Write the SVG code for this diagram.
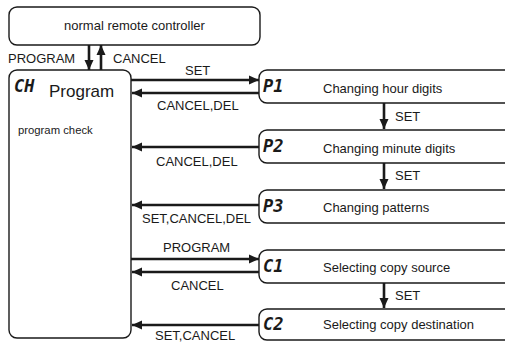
<svg xmlns="http://www.w3.org/2000/svg" width="505" height="343" viewBox="0 0 505 343">
<style>
.box{fill:#fff;stroke:#1a1a1a;stroke-width:1.4}
.t{font-family:"Liberation Sans",Arial,sans-serif;font-size:13px;fill:#1a1a1a}
.seg{font-family:"DejaVu Sans Mono","Liberation Mono",monospace;font-size:17px;font-weight:bold;font-style:italic;fill:#1a1a1a}
.a{stroke:#1a1a1a;stroke-width:2.6;fill:none;marker-end:url(#ah)}
</style>
<defs>
<marker id="ah" markerUnits="userSpaceOnUse" markerWidth="11" markerHeight="10" refX="10" refY="5" orient="auto">
<path d="M0,0.5 L10,5 L0,9.5 z" fill="#1a1a1a"/>
</marker>
</defs>
<rect width="505" height="343" fill="#fff"/>
<g id="normal">
<rect class="box" x="9" y="7" width="251" height="38" rx="8"/>
<text class="t" x="134.5" y="30" text-anchor="middle">normal remote controller</text>
</g>
<g id="program">
<rect class="box" x="9" y="70" width="122" height="268" rx="8"/>
<text class="seg" x="14" y="92">CH</text>
<text class="t" x="49" y="97" style="font-size:17px">Program</text>
<text class="t" x="18" y="134" style="font-size:11.3px">program check</text>
</g>
<g id="p1">
<rect class="box" x="259" y="70" width="260" height="33" rx="8"/>
<text class="seg" x="263" y="92">P1</text>
<text class="t" x="323" y="93">Changing hour digits</text>
</g>
<g id="p2">
<rect class="box" x="259" y="130" width="260" height="33" rx="8"/>
<text class="seg" x="263" y="152">P2</text>
<text class="t" x="323" y="153">Changing minute digits</text>
</g>
<g id="p3">
<rect class="box" x="259" y="190" width="260" height="33" rx="8"/>
<text class="seg" x="263" y="212">P3</text>
<text class="t" x="323" y="212">Changing patterns</text>
</g>
<g id="c1">
<rect class="box" x="259" y="250" width="260" height="33" rx="8"/>
<text class="seg" x="263" y="272">C1</text>
<text class="t" x="323" y="272">Selecting copy source</text>
</g>
<g id="c2">
<rect class="box" x="259" y="309" width="260" height="31" rx="8"/>
<text class="seg" x="263" y="330">C2</text>
<text class="t" x="323" y="329">Selecting copy destination</text>
</g>
<g id="connectors">
<line class="a" x1="89" y1="45" x2="89" y2="70"/>
<line class="a" x1="101" y1="70" x2="101" y2="45"/>
<text class="t" x="8" y="63">PROGRAM</text>
<text class="t" x="113" y="63">CANCEL</text>
<line class="a" x1="131" y1="80" x2="259" y2="80"/>
<text class="t" x="185" y="75">SET</text>
<line class="a" x1="259" y1="93" x2="132" y2="93"/>
<text class="t" x="157" y="110">CANCEL,DEL</text>
<line class="a" x1="384" y1="103" x2="384" y2="129"/>
<text class="t" x="395" y="121">SET</text>
<line class="a" x1="259" y1="147" x2="132" y2="147"/>
<text class="t" x="156" y="166">CANCEL,DEL</text>
<line class="a" x1="384" y1="163" x2="384" y2="189"/>
<text class="t" x="395" y="180">SET</text>
<line class="a" x1="259" y1="205" x2="132" y2="205"/>
<text class="t" x="142" y="223">SET,CANCEL,DEL</text>
<line class="a" x1="131" y1="259" x2="259" y2="259"/>
<text class="t" x="163" y="252">PROGRAM</text>
<line class="a" x1="259" y1="272" x2="132" y2="272"/>
<text class="t" x="171" y="290">CANCEL</text>
<line class="a" x1="384" y1="283" x2="384" y2="308"/>
<text class="t" x="395" y="300">SET</text>
<line class="a" x1="259" y1="325" x2="132" y2="325"/>
<text class="t" x="155" y="340">SET,CANCEL</text>
</g>
</svg>
